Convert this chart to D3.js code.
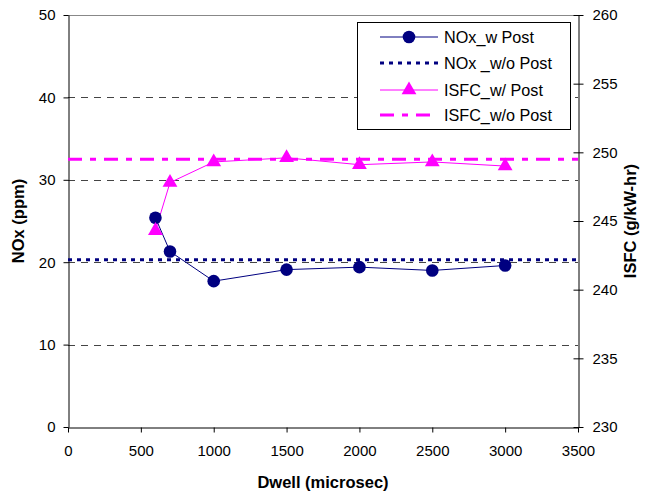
<!DOCTYPE html>
<html>
<head>
<meta charset="utf-8">
<script src="https://cdn.jsdelivr.net/npm/d3@7"></script>
<style>
  body { margin: 0; background: #fff; }
  svg { font-family: "Liberation Sans", Arial, sans-serif; }
</style>
</head>
<body>
<svg width="645" height="495"></svg>
<script>
// chart data
var dwell = [600, 700, 1000, 1500, 2000, 2500, 3000];
var noxPost = [25.4, 21.3, 17.7, 19.1, 19.4, 19.0, 19.6];
var noxNoPost = [20.3, 20.3];
var isfcPost = [244.3, 247.8, 249.3, 249.6, 249.1, 249.3, 249.0];
var isfcNoPost = [249.5, 249.5];
var xTicks = [0, 500, 1000, 1500, 2000, 2500, 3000, 3500];
var noxTicks = [0, 10, 20, 30, 40, 50];
var isfcTicks = [230, 235, 240, 245, 250, 255, 260];
var legendNames = ['NOx_w Post', 'NOx _w/o Post', 'ISFC_w/ Post', 'ISFC_w/o Post'];

var svg = d3.select('svg');
var pLeft = 68, pRight = 578, pTop = 15, pBottom = 427;

var x = d3.scaleLinear().domain([0, 3500]).range([pLeft, pRight]);
var yL = d3.scaleLinear().domain([0, 50]).range([pBottom, pTop]);
var yR = d3.scaleLinear().domain([230, 260]).range([pBottom, pTop]);

var navy = '#000080', magenta = '#ff00ff';
var fmt = d3.format('d');

// gridlines
svg.append('g')
  .selectAll('line')
  .data(noxTicks.filter(d => d > 0 && d < 50))
  .enter().append('line')
  .attr('x1', pLeft).attr('x2', pRight)
  .attr('y1', d => Math.round(yL(d)) + 0.5)
  .attr('y2', d => Math.round(yL(d)) + 0.5)
  .attr('stroke', '#444')
  .attr('stroke-dasharray', '7,6');

// plot top border
svg.append('line')
  .attr('x1', pLeft).attr('x2', pRight)
  .attr('y1', pTop + 0.5).attr('y2', pTop + 0.5)
  .attr('stroke', '#888');

// axes
var xAxis = svg.append('g')
  .attr('transform', `translate(0, ${pBottom + 0.5})`)
  .call(d3.axisBottom(x).tickValues(xTicks).tickFormat(fmt).tickSize(5).tickPadding(13).tickSizeOuter(0));

var leftAxis = svg.append('g')
  .attr('transform', `translate(${pLeft + 0.5}, 0)`)
  .call(d3.axisLeft(yL).tickValues(noxTicks).tickFormat(fmt).tickSize(5).tickPadding(8).tickSizeOuter(0));

var rightAxis = svg.append('g')
  .attr('transform', `translate(${pRight + 0.5}, 0)`)
  .call(d3.axisRight(yR).tickValues(isfcTicks).tickFormat(fmt).tickSize(5).tickPadding(9).tickSizeOuter(0));
rightAxis.selectAll('.tick line').attr('x1', -5);

[xAxis, leftAxis, rightAxis].forEach(function(a) {
  a.select('.domain').attr('stroke', '#000');
  a.selectAll('.tick line').attr('stroke', '#000');
  a.selectAll('text').attr('font-size', '15px').attr('fill', '#000')
    .attr('font-family', '"Liberation Sans", Arial, sans-serif');
});

// reference lines without post injection
var ends = [0, 3500];
svg.append('path')
  .datum(noxNoPost)
  .attr('d', d3.line().x((d, i) => x(ends[i])).y(d => yL(d)))
  .attr('fill', 'none')
  .attr('stroke', navy)
  .attr('stroke-width', 3)
  .attr('stroke-dasharray', '4,5');

svg.append('path')
  .datum(isfcNoPost)
  .attr('d', d3.line().x((d, i) => x(ends[i])).y(d => yR(d)))
  .attr('fill', 'none')
  .attr('stroke', magenta)
  .attr('stroke-width', 3)
  .attr('stroke-dasharray', '14,8,6,8');

// NOx with post
svg.append('path')
  .datum(noxPost)
  .attr('d', d3.line().x((d, i) => x(dwell[i])).y(d => yL(d)))
  .attr('fill', 'none')
  .attr('stroke', navy)
  .attr('stroke-width', 1);

// ISFC with post
svg.append('path')
  .datum(isfcPost)
  .attr('d', d3.line().x((d, i) => x(dwell[i])).y(d => yR(d)))
  .attr('fill', 'none')
  .attr('stroke', magenta)
  .attr('stroke-width', 1);

var tri = d3.symbol().type(d3.symbolTriangle).size(95);

svg.append('g')
  .selectAll('circle')
  .data(noxPost)
  .enter().append('circle')
  .attr('cx', (d, i) => x(dwell[i]))
  .attr('cy', d => yL(d))
  .attr('r', 6.3)
  .attr('fill', navy);

svg.append('g')
  .selectAll('path')
  .data(isfcPost)
  .enter().append('path')
  .attr('d', tri)
  .attr('transform', (d, i) => `translate(${x(dwell[i])}, ${yR(d)})`)
  .attr('fill', magenta);

// axis titles
svg.append('text')
  .attr('x', (pLeft + pRight) / 2)
  .attr('y', 488)
  .attr('text-anchor', 'middle')
  .attr('font-size', '16.5px')
  .attr('font-weight', 'bold')
  .text('Dwell (microsec)');

svg.append('text')
  .attr('transform', `translate(24, ${(pTop + pBottom) / 2}) rotate(-90)`)
  .attr('text-anchor', 'middle')
  .attr('font-size', '16.5px')
  .attr('font-weight', 'bold')
  .text('NOx (ppm)');

svg.append('text')
  .attr('transform', `translate(636, ${(pTop + pBottom) / 2}) rotate(-90)`)
  .attr('text-anchor', 'middle')
  .attr('font-size', '16.5px')
  .attr('font-weight', 'bold')
  .text('ISFC (g/kW-hr)');

// legend
var lg = svg.append('g');
lg.append('rect')
  .attr('x', 357.5).attr('y', 22.5)
  .attr('width', 213).attr('height', 107)
  .attr('fill', '#fff')
  .attr('stroke', '#000');

var rowY = [37, 63, 90, 115];
var styles = [
  { c: navy, w: 1, dash: null, mark: 'circle' },
  { c: navy, w: 3, dash: '4,5', mark: null },
  { c: magenta, w: 1, dash: null, mark: 'tri' },
  { c: magenta, w: 3, dash: '14,8,6,8', mark: null }
];

legendNames.forEach(function(name, i) {
  var s = styles[i];
  lg.append('line')
    .attr('x1', 380).attr('x2', 438)
    .attr('y1', rowY[i]).attr('y2', rowY[i])
    .attr('stroke', s.c)
    .attr('stroke-width', s.w)
    .attr('stroke-dasharray', s.dash);
  if (s.mark === 'circle') {
    lg.append('circle').attr('cx', 409).attr('cy', rowY[i]).attr('r', 6.3).attr('fill', s.c);
  } else if (s.mark === 'tri') {
    lg.append('path').attr('d', tri).attr('transform', `translate(409, ${rowY[i]})`).attr('fill', s.c);
  }
  lg.append('text')
    .attr('x', 444)
    .attr('y', rowY[i] + 5.5)
    .attr('font-size', '16.2px')
    .text(name);
});
</script>
</body>
</html>
